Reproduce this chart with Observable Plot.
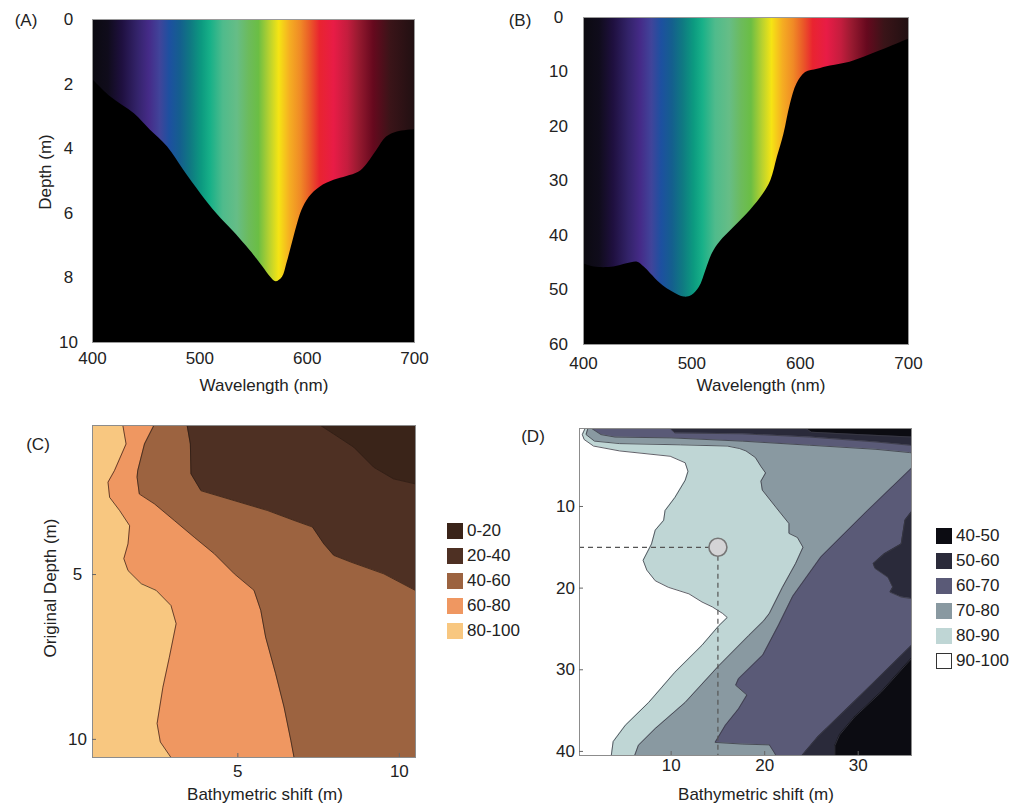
<!DOCTYPE html>
<html><head><meta charset="utf-8">
<script src="https://cdn.jsdelivr.net/npm/d3@7"></script>
<script src="https://cdn.jsdelivr.net/npm/@observablehq/plot@0.6"></script>
<style>
body{margin:0;background:#fff;font-family:"Liberation Sans",Arial,sans-serif;color:#222}
#root{position:relative;width:1013px;height:806px;overflow:hidden;background:#fff}
.panel{position:absolute}
.lbl{position:absolute;font-size:17px;white-space:nowrap;transform:translate(-50%,-50%)}
.rot{transform:translate(-50%,-50%) rotate(-90deg)}
.leg{position:absolute;font-size:17px;line-height:16px;white-space:nowrap}
.sw{position:absolute;width:16px;height:16px;box-sizing:border-box}
</style></head><body><div id="root"></div>
<script>
// ---------- spectrum colour stops ----------
const spectrumWl = [400,415,428,442,453,463,472,482,492,502,510,522,535,546,555,565,574,584,594,603,612,625,638,648,662,678,700];
const spectrumColors = ["#0b0a10","#100c1c","#1f1040","#33236a","#452b88","#40449a","#1d50a0","#145f8e","#0f7a82","#0c9a80","#17b088","#4fbb8c","#66bd86","#6cbb5c","#6bbe44","#b6d130","#f5e414","#f5ae22","#f08a26","#ea5a28","#e92430","#e81c46","#c41d3e","#981a30","#66091e","#3a1418","#211012"];

// ---------- panel A ----------
const aWavelength = [400,417,439,454,470,485,501,516,532,547,553,559,566,571,577,581,586,591,595,602,612,625,637,648,656,665,674,684,700];
const aDepth = [1.85,2.4,2.92,3.43,3.95,4.67,5.4,6.02,6.59,7.16,7.41,7.67,7.98,8.12,7.98,7.57,6.95,6.33,5.92,5.5,5.19,4.98,4.86,4.73,4.47,4.05,3.64,3.48,3.41];
const aTicksX = [400,500,600,700];
const aTicksY = [0,2,4,6,8,10];

// ---------- panel B ----------
const bWavelength = [400,410,428,440,450,456,462,471,480,493,500,507,513,519,526,539,554,566,573,579,585,591,597,605,616,628,646,659,674,689,700];
const bDepth = [45.2,45.8,45.8,45.2,44.9,45.8,47.0,48.8,50.1,51.3,51.0,49.5,46.4,43.3,41.2,38.5,35.4,32.4,29.9,25.6,21.4,15.9,12.2,10.1,9.5,8.9,8.2,7.3,6.1,4.9,4.0];
const bTicksX = [400,500,600,700];
const bTicksY = [0,10,20,30,40,50,60];

// ---------- panel C (contour boundaries: x of boundary at depth y) ----------
const cLevels = ["0-20","20-40","40-60","60-80","80-100"];
const cColors = ["#3a2419","#4e3023","#9c6340","#ef9761","#f8c780"];
const cB80y = [0.48,1.04,1.85,2.2,2.66,3.06,3.52,4.07,4.52,4.88,5.28,5.48,5.94,6.49,7.51,8.42,9.52,10.08,10.55];
const cB80x = [1.44,1.54,1.18,0.98,1.03,1.34,1.65,1.6,1.47,1.6,2.01,2.47,2.93,3.09,2.88,2.68,2.5,2.6,2.93];
const cB60y = [0.48,1.04,1.85,2.05,2.56,2.86,3.36,3.87,4.37,4.98,5.48,6.09,6.9,8.01,9.02,10.03,10.55];
const cB60x = [2.4,2.11,1.9,1.88,1.95,2.42,3.03,3.65,4.27,4.89,5.5,5.71,5.86,6.17,6.43,6.64,6.74];
const cB40y = [0.48,1.04,1.95,2.46,2.76,3.06,3.36,3.56,4.07,4.42,4.62,4.98,5.48,5.6,10.55];
const cB40x = [3.43,3.53,3.55,3.86,4.89,5.92,6.74,7.31,7.66,7.97,8.49,9.52,10.49,11,11];
const cB20y = [0.48,0.74,1.14,1.75,2.1,2.25,2.4,10.55];
const cB20x = [7.56,7.97,8.59,9.21,9.82,10.49,11,11];
const cTicksX = [5,10];
const cTicksY = [5,10];

// ---------- panel D ----------
const dLevels = ["40-50","50-60","60-70","70-80","80-90","90-100"];
const dColors = ["#0c0c12","#2a2a3a","#5a5a77","#8999a1","#bfd6d5","#ffffff"];
const dB90y = [0.45,1.2,1.8,2.6,3.2,3.85,4.65,5.7,6.8,8.9,10.5,11.7,12.9,14.6,16.6,17.8,19.1,19.9,20.7,21.7,22.3,23.1,23.6,24.6,27.0,30.3,34.0,36.8,38.8,40.5];
const dB90x = [0.8,0.5,0.7,1.7,4.5,9.9,11.5,11.8,11.5,10.4,9.35,9.2,8.3,7.9,7.0,7.4,8.3,9.7,11.9,13.3,14.4,15.5,16.0,15.1,13.3,10.4,7.6,5.1,3.8,3.6];
const dB80y = [0.45,1.2,2.0,2.3,2.45,2.6,2.9,3.2,4.0,5.1,5.9,6.9,8.0,10.1,12.1,13.3,13.8,15.0,17.0,19.9,23.1,24.0,25.8,29.5,34.0,37.2,39.25,40.5];
const dB80x = [1.1,0.9,1.8,4.5,11,16,17.3,18,19,19.6,20.1,19.6,19.75,21.2,22.6,22.6,23.5,24.1,23.3,21.9,20.5,19.9,18.3,15.1,11.5,8.3,6.5,6.1];
const dB70y = [0.45,1.2,1.5,1.6,2.0,2.5,3.0,3.4,3.6,5.0,5.2,10.5,16.2,21,24.5,28.2,31.1,31.9,33.1,34.8,36.8,38.9,39.1,39.2,40.1,40.5];
const dB70x = [1.5,2.5,4,10,17.6,24.8,31.9,35.5,37,37,35.8,31,26,23,21.5,19.8,17.2,16.9,18.1,17.2,15.8,14.7,17.6,20.5,21,21.2];
const dB60y = [0.45,1.0,1.1,1.5,2.1,2.5,2.7,10.3,10.5,11.7,14.6,15.8,17.0,17.6,18.7,19.9,20.5,21.1,21.3,21.5,26.7,26.9,31.3,35,38.2,40.5];
const dB60x = [9.9,10.4,17.6,24.8,31.9,35.5,37,37,35.8,35.0,34.6,32.8,31.6,31.8,33.2,33.7,33.4,34.6,35.8,37,37,35.8,31.9,28.6,25.7,24];
const dB50y = [0.45,0.9,1.2,1.5,1.6,28.3,28.5,32.7,35.8,38,39.3,40.5];
const dB50x = [24.4,25,30,35.7,37,37,35.8,32.5,29.6,28,27.5,27.5];
const dPoint = [{x: 15, y: 15}];
const dTicksX = [10,20,30];
const dTicksY = [10,20,30,40];

// ---------- helpers ----------
const zip = (xs, ys) => xs.map((x, i) => ({x, y: ys[i]}));
const curveA = zip(aWavelength, aDepth);
const curveB = zip(bWavelength, bDepth);
const TICK_FONT = 17;

function spectrumDefs(id) {
  return () => {
    const ns = "http://www.w3.org/2000/svg";
    const defs = document.createElementNS(ns, "defs");
    const g = document.createElementNS(ns, "linearGradient");
    g.setAttribute("id", id);
    g.setAttribute("x1", "0"); g.setAttribute("x2", "1");
    g.setAttribute("y1", "0"); g.setAttribute("y2", "0");
    const w0 = spectrumWl[0], w1 = spectrumWl[spectrumWl.length - 1];
    spectrumWl.forEach((w, i) => {
      const s = document.createElementNS(ns, "stop");
      s.setAttribute("offset", (w - w0) / (w1 - w0));
      s.setAttribute("stop-color", spectrumColors[i]);
      g.appendChild(s);
    });
    defs.appendChild(g);
    return defs;
  };
}

const root = document.getElementById("root");
function place(svg, left, top) {
  const d = document.createElement("div");
  d.className = "panel";
  d.style.left = left + "px"; d.style.top = top + "px";
  d.appendChild(svg);
  root.appendChild(d);
}
function label(text, cx, cy, rot) {
  const d = document.createElement("div");
  d.className = "lbl" + (rot ? " rot" : "");
  d.style.left = cx + "px"; d.style.top = cy + "px";
  d.textContent = text;
  root.appendChild(d);
}
function legend(levels, colors, left, top, step, borders) {
  levels.forEach((lv, i) => {
    const s = document.createElement("div");
    s.className = "sw";
    s.style.left = left + "px"; s.style.top = (top + i * step) + "px";
    s.style.background = colors[i];
    if (borders[i]) s.style.border = "1.5px solid #333";
    root.appendChild(s);
    const t = document.createElement("div");
    t.className = "leg";
    t.style.left = (left + 20) + "px"; t.style.top = (top + i * step) + "px";
    t.textContent = lv;
    root.appendChild(t);
  });
}
const baseStyle = {fontFamily: "Liberation Sans, Arial, sans-serif", fontSize: "17px", color: "#222", background: "transparent", overflow: "visible"};

// ---------- Panel A ----------
const wlDomain = [aTicksX[0], aTicksX[aTicksX.length - 1]];
const plotA = Plot.plot({
  width: 440, height: 400, marginLeft: 92, marginRight: 26, marginTop: 19, marginBottom: 58,
  style: baseStyle,
  x: {domain: wlDomain},
  y: {domain: [aTicksY[0], aTicksY[aTicksY.length - 1]], reverse: true},
  marks: [
    spectrumDefs("specA"),
    Plot.rect([{x1: wlDomain[0], x2: wlDomain[1], y1: aTicksY[0], y2: aTicksY[aTicksY.length - 1]}], {x1: "x1", x2: "x2", y1: "y1", y2: "y2", fill: "url(#specA)"}),
    Plot.areaY(curveA, {x: "x", y1: "y", y2: aTicksY[aTicksY.length - 1], fill: "#000", curve: "catmull-rom"}),
    Plot.frame({stroke: "#9a9a9a", strokeWidth: 1}),
    Plot.axisX({ticks: aTicksX, tickSize: 0, tickPadding: 9, label: null, fontSize: TICK_FONT}),
    Plot.axisY({ticks: aTicksY, tickSize: 0, tickPadding: 24, textAnchor: "middle", label: null, fontSize: TICK_FONT})
  ]
});
place(plotA, 0, 0);

// ---------- Panel B ----------
const plotB = Plot.plot({
  width: 440, height: 400, marginLeft: 93, marginRight: 22, marginTop: 17, marginBottom: 56,
  style: baseStyle,
  x: {domain: [bTicksX[0], bTicksX[bTicksX.length - 1]]},
  y: {domain: [bTicksY[0], bTicksY[bTicksY.length - 1]], reverse: true},
  marks: [
    spectrumDefs("specB"),
    Plot.rect([{x1: bTicksX[0], x2: bTicksX[bTicksX.length - 1], y1: bTicksY[0], y2: bTicksY[bTicksY.length - 1]}], {x1: "x1", x2: "x2", y1: "y1", y2: "y2", fill: "url(#specB)"}),
    Plot.areaY(curveB, {x: "x", y1: "y", y2: bTicksY[bTicksY.length - 1], fill: "#000", curve: "catmull-rom"}),
    Plot.frame({stroke: "#9a9a9a", strokeWidth: 1}),
    Plot.axisX({ticks: bTicksX, tickSize: 0, tickPadding: 12, label: null, fontSize: TICK_FONT}),
    Plot.axisY({ticks: bTicksY, tickSize: 0, tickPadding: 25, textAnchor: "middle", label: null, fontSize: TICK_FONT})
  ]
});
place(plotB, 490, 0);

// ---------- Panel C ----------
const cX = [0.5, 10.5], cY = [0.48, 10.55];
const cBounds = [zip(cB20x, cB20y), zip(cB40x, cB40y), zip(cB60x, cB60y), zip(cB80x, cB80y)];
const plotC = Plot.plot({
  width: 440, height: 400, marginLeft: 92, marginRight: 25, marginTop: 25, marginBottom: 43,
  style: baseStyle,
  x: {domain: cX},
  y: {domain: cY, reverse: true},
  marks: [
    Plot.frame({fill: cColors[0]}),
    ...cBounds.map((b, i) => Plot.areaX(b, {y: "y", x1: cX[0], x2: "x", fill: cColors[i + 1], clip: true})),
    ...cBounds.map(b => Plot.line(b, {x: "x", y: "y", stroke: "#2a1a12", strokeWidth: 0.7, clip: true})),
    Plot.frame({stroke: "#8c8c8c", strokeWidth: 1}),
    Plot.axisX({ticks: cTicksX, tickSize: -4, tickPadding: 11, label: null, stroke: "#666", fontSize: TICK_FONT}),
    Plot.axisY({ticks: cTicksY, tickSize: -4, tickPadding: 19, textAnchor: "middle", label: null, stroke: "#666", fontSize: TICK_FONT})
  ]
});
place(plotC, 0, 400);

// ---------- Panel D ----------
const dX = [0.2, 35.7], dY = [0.45, 40.5];
const dBounds = [zip(dB90x, dB90y), zip(dB80x, dB80y), zip(dB70x, dB70y), zip(dB60x, dB60y), zip(dB50x, dB50y)];
const dFill = [dColors[4], dColors[3], dColors[2], dColors[1], dColors[0]];
const plotD = Plot.plot({
  width: 440, height: 400, marginLeft: 89, marginRight: 19, marginTop: 28, marginBottom: 45,
  style: baseStyle,
  x: {domain: dX},
  y: {domain: dY, reverse: true},
  marks: [
    Plot.frame({fill: dColors[5]}),
    ...dBounds.map((b, i) => Plot.areaX(b, {y: "y", x1: "x", x2: 37, fill: dFill[i], clip: true})),
    ...dBounds.map(b => Plot.line(b, {x: "x", y: "y", stroke: "#3a3a44", strokeWidth: 0.8, clip: true})),
    Plot.ruleY(dPoint, {y: "y", x1: dX[0], x2: "x", stroke: "#555", strokeWidth: 1.2, strokeDasharray: "5,4"}),
    Plot.ruleX(dPoint, {x: "x", y1: "y", y2: dY[1], stroke: "#555", strokeWidth: 1.2, strokeDasharray: "5,4"}),
    Plot.dot(dPoint, {x: "x", y: "y", r: 9, fill: "#d4d4d6", stroke: "#777", strokeWidth: 1.6}),
    Plot.frame({stroke: "#8c8c8c", strokeWidth: 1}),
    Plot.axisX({ticks: dTicksX, tickSize: -4, tickPadding: 7, label: null, stroke: "#666", fontSize: TICK_FONT}),
    Plot.axisY({ticks: dTicksY, tickSize: -4, tickPadding: 18, textAnchor: "middle", label: null, stroke: "#666", fontSize: TICK_FONT})
  ]
});
place(plotD, 490, 400);

// ---------- text ----------
label("(A)", 26, 21);
label("(B)", 520, 21);
label("(C)", 38, 445);
label("(D)", 533, 437);
label("Depth (m)", 46, 172, true);
label("Wavelength (nm)", 264, 386);
label("Wavelength (nm)", 761, 386);
label("Original Depth (m)", 51, 588, true);
label("Bathymetric shift (m)", 265, 795);
label("Bathymetric shift (m)", 756, 795);

legend(cLevels, cColors, 447, 523, 25, [false, false, false, false, false]);
legend(dLevels, dColors, 936, 528, 25, [false, false, false, false, false, true]);
</script></body></html>
